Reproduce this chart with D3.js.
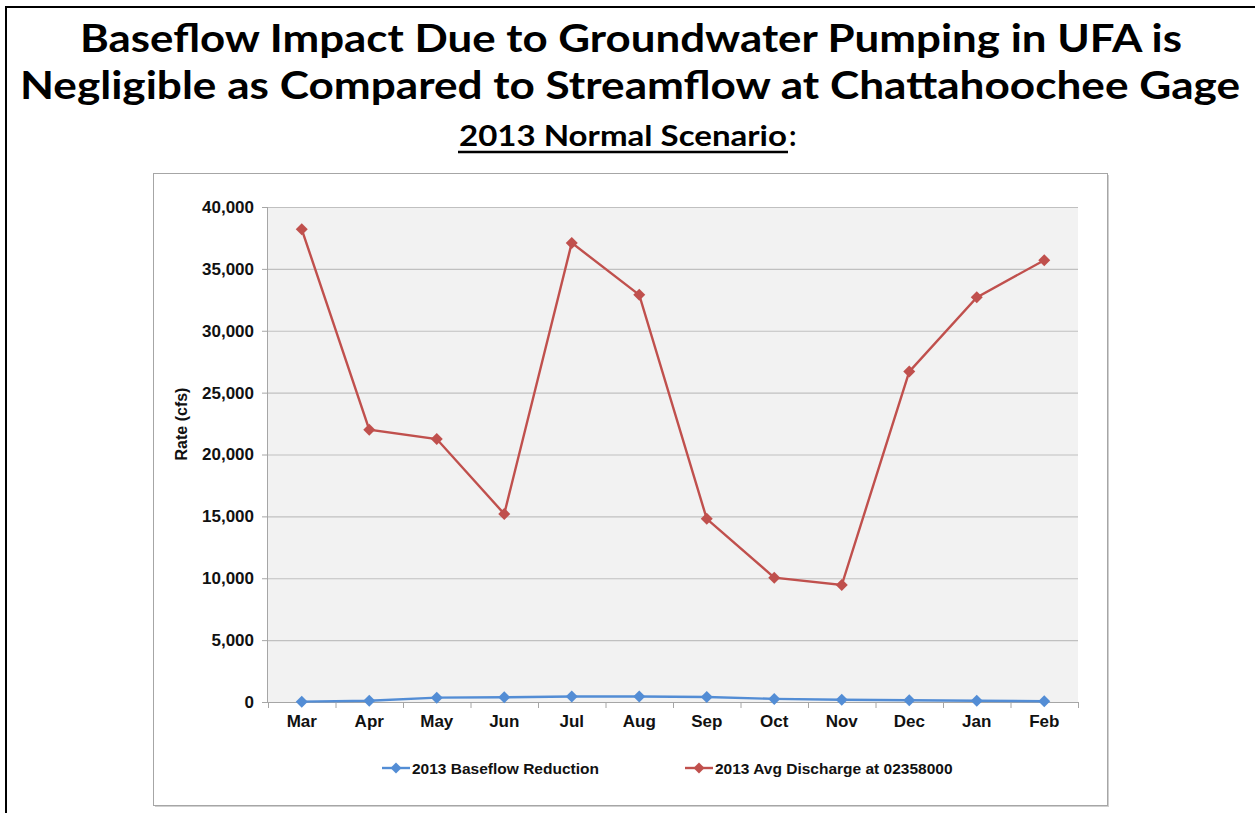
<!DOCTYPE html>
<html><head><meta charset="utf-8">
<script src="https://cdn.jsdelivr.net/npm/d3@7"></script>
<style>body{margin:0;background:#fff}svg{display:block}</style>
</head><body><svg id="c" width="1255" height="813"></svg>
<script>
const months = ["Mar","Apr","May","Jun","Jul","Aug","Sep","Oct","Nov","Dec","Jan","Feb"];
const baseflowReduction = [30,100,350,380,450,450,400,250,180,140,100,60];
const avgDischarge = [38200,22000,21250,15200,37100,32900,14800,10050,9450,26700,32700,35700];
const yTicks = [0,5000,10000,15000,20000,25000,30000,35000,40000];
const seriesNames = ["2013 Baseflow Reduction","2013 Avg Discharge at 02358000"];
const titleLines = ["Baseflow Impact Due to Groundwater Pumping in UFA is","Negligible as Compared to Streamflow at Chattahoochee Gage"];
const subtitle = "2013 Normal Scenario";

const svg = d3.select("#c");
const blue = "#538DD5", red = "#C0504D";

// outer frame
svg.append("rect").attr("x",6).attr("y",7).attr("width",1270).attr("height",830)
  .attr("fill","none").attr("stroke","#000").attr("stroke-width",2);

// titles
const tfont = "Lato, 'Open Sans', sans-serif";
svg.append("text").attr("x",631).attr("y",52).attr("text-anchor","middle")
  .attr("font-family",tfont).attr("font-weight",700).attr("font-size",39)
  .attr("textLength",1102).attr("lengthAdjust","spacingAndGlyphs").text(titleLines[0]);
svg.append("text").attr("x",630).attr("y",99).attr("text-anchor","middle")
  .attr("font-family",tfont).attr("font-weight",700).attr("font-size",39)
  .attr("textLength",1220).attr("lengthAdjust","spacingAndGlyphs").text(titleLines[1]);
svg.append("text").attr("x",459).attr("y",146)
  .attr("font-family",tfont).attr("font-weight",700).attr("font-size",29)
  .attr("textLength",328).attr("lengthAdjust","spacingAndGlyphs").text(subtitle);
svg.append("text").attr("x",789).attr("y",146)
  .attr("font-family",tfont).attr("font-weight",700).attr("font-size",29).text(":");
svg.append("line").attr("x1",458).attr("x2",788).attr("y1",152).attr("y2",152)
  .attr("stroke","#000").attr("stroke-width",2.5);

// chart box
svg.append("rect").attr("x",155).attr("y",175).attr("width",954).attr("height",632).attr("fill","#d0d0d0");
svg.append("rect").attr("x",153.5).attr("y",173.5).attr("width",954).attr("height",632)
  .attr("fill","#fff").attr("stroke","#a6a6a6").attr("stroke-width",1);

const L=268, R=1078, T=207, B=702;
const x = d3.scaleBand().domain(months).range([L,R]);
const y = d3.scaleLinear().domain([0,40000]).range([B,T]);

svg.append("rect").attr("x",L).attr("y",T).attr("width",R-L).attr("height",B-T).attr("fill","#f2f2f2");

// gridlines
svg.append("g").selectAll("line").data(yTicks.filter(d=>d>0)).join("line")
  .attr("x1",L).attr("x2",R).attr("y1",d=>y(d)+0.5).attr("y2",d=>y(d)+0.5)
  .attr("stroke","#c0c0c0").attr("stroke-width",1.2);

const afont = "'Liberation Sans', Arial, sans-serif";
// y axis
const ya = svg.append("g").attr("transform",`translate(${L},0)`)
  .call(d3.axisLeft(y).tickValues(yTicks).tickSize(6).tickPadding(8).tickFormat(d3.format(",")));
ya.select(".domain").attr("stroke","#a6a6a6").attr("d",`M-0.5,${T}V${B}`);
ya.selectAll(".tick line").attr("stroke","#a6a6a6");
ya.selectAll("text").attr("font-family",afont).attr("font-weight",700).attr("font-size",17).attr("fill","#111");

// x axis
const xa = svg.append("g").attr("transform",`translate(0,${B})`)
  .call(d3.axisBottom(x).tickSize(0).tickPadding(13));
xa.select(".domain").attr("stroke","#a6a6a6").attr("d",`M${L},0.5H${R}`);
xa.selectAll("text").attr("font-family",afont).attr("font-weight",700).attr("font-size",17).attr("fill","#111");
const bounds = months.map(m=>x(m)).concat([R]);
svg.append("g").selectAll("line").data(bounds).join("line")
  .attr("x1",d=>d+0.5).attr("x2",d=>d+0.5).attr("y1",B).attr("y2",B+6).attr("stroke","#a6a6a6");

// y title
svg.append("text").attr("transform",`translate(187,424) rotate(-90)`).attr("text-anchor","middle")
  .attr("font-family",afont).attr("font-weight",700).attr("font-size",16).attr("fill","#111").text("Rate (cfs)");

const cx = m => x(m)+x.bandwidth()/2;
const line = d3.line().x((d,i)=>cx(months[i])).y(d=>y(d));

function drawSeries(data,color){
  svg.append("path").datum(data).attr("d",line).attr("fill","none").attr("stroke",color).attr("stroke-width",2.4);
  svg.append("g").selectAll("path").data(data).join("path")
    .attr("transform",(d,i)=>`translate(${cx(months[i])},${y(d)}) rotate(45)`)
    .attr("d",d3.symbol().type(d3.symbolSquare).size(72)).attr("fill",color);
}
drawSeries(avgDischarge,red);
drawSeries(baseflowReduction,blue);

// legend
const leg = [{name:seriesNames[0],color:blue,x:382},{name:seriesNames[1],color:red,x:685}];
const lg = svg.append("g").selectAll("g").data(leg).join("g").attr("transform",d=>`translate(${d.x},768)`);
lg.append("line").attr("x1",0).attr("x2",28).attr("stroke",d=>d.color).attr("stroke-width",2.4);
lg.append("path").attr("transform","translate(14,0) rotate(45)").attr("d",d3.symbol().type(d3.symbolSquare).size(60)).attr("fill",d=>d.color);
lg.append("text").attr("x",30).attr("y",5.5).attr("font-family",afont).attr("font-weight",700).attr("font-size",15.5)
  .attr("fill","#111").text(d=>d.name);
</script></body></html>
